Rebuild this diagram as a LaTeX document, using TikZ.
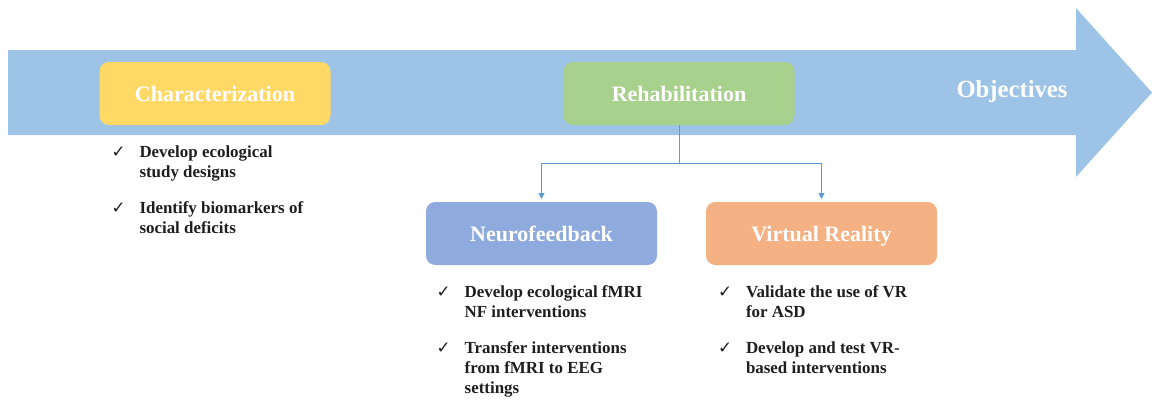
\documentclass[tikz,border=0pt]{standalone}
\usepackage{fontspec}
\setmainfont{Liberation Serif}
\newfontfamily\symfont{DejaVu Sans}
\usetikzlibrary{arrows.meta,positioning,calc}
\tikzset{>=Stealth}
\definecolor{ArrowColor}{RGB}{157,195,230}
\definecolor{CHcolor}{RGB}{255,217,102}
\definecolor{RHcolor}{RGB}{169,209,142}
\definecolor{NFcolor}{RGB}{143,170,220}
\definecolor{VRcolor}{RGB}{244,177,131}
\definecolor{LinkColor}{RGB}{91,155,213}
\definecolor{TextColor}{RGB}{30,30,30}
\tikzset{
  objbox/.style={rounded corners=7pt, minimum width=173.25pt, minimum height=47.25pt,
    inner sep=0pt, text height=12pt, text depth=0pt,
    text=white, font=\bfseries\fontsize{16.5}{18}\selectfont},
  checklist/.style={inner sep=0pt, text=TextColor, font=\bfseries\fontsize{12.7}{15}\selectfont},
  link/.style={draw=LinkColor, line width=0.6pt, -{Triangle[width=4.5pt,length=4.5pt]}, shorten >=2pt}
}
\newcommand{\chk}{{\symfont\fontsize{12.5}{13}\selectfont ✓}}

\begin{document}
\begin{tikzpicture}[x=0.75pt, y=-0.75pt]

% Marco de la imagen
\useasboundingbox (0,0) rectangle (1152,401);

% Flecha de fondo
\fill[ArrowColor] (8,50) -- (1076,50) -- (1076,8) -- (1152,92.5) -- (1076,177)
  -- (1076,135) -- (8,135) -- cycle;
\node[text=white, font=\bfseries\fontsize{18.5}{20}\selectfont] (obj) at (1012,92) {Objectives};

% Cajas de objetivos
\node[objbox, fill=CHcolor] (char) at (215,93.5) {Characterization};
\node[objbox, fill=RHcolor] (rehab) at (679,93.5) {Rehabilitation};
\node[objbox, fill=NFcolor] (neuro) at (541.5,233.5) {Neurofeedback};
\node[objbox, fill=VRcolor] (vr) at (821.5,233.5) {Virtual Reality};

% Conexiones
\coordinate[below=28.5pt of rehab.south] (fork);
\draw[link] (rehab.south) -- (fork) -| (neuro.north);
\draw[link] (fork) -| (vr.north);

% Listas
\node[checklist, anchor=north west, below right=13.5pt and 9pt of char.south west] (charlist) {%
  \begin{tabular}{@{}p{21pt}@{}p{5cm}@{}}
    \chk & Develop ecological\newline study designs \\[12pt]
    \chk & Identify biomarkers of\newline social deficits
  \end{tabular}};
\node[checklist, anchor=north west, below right=13.5pt and 8pt of neuro.south west] (neurolist) {%
  \begin{tabular}{@{}p{21pt}@{}p{5cm}@{}}
    \chk & Develop ecological fMRI\newline NF interventions \\[12pt]
    \chk & Transfer interventions\newline from fMRI to EEG\newline settings
  \end{tabular}};
\node[checklist, anchor=north west, below right=13.5pt and 9pt of vr.south west] (vrlist) {%
  \begin{tabular}{@{}p{21pt}@{}p{5cm}@{}}
    \chk & Validate the use of VR\newline for ASD \\[12pt]
    \chk & Develop and test VR-\newline based interventions
  \end{tabular}};

\end{tikzpicture}
\end{document}
